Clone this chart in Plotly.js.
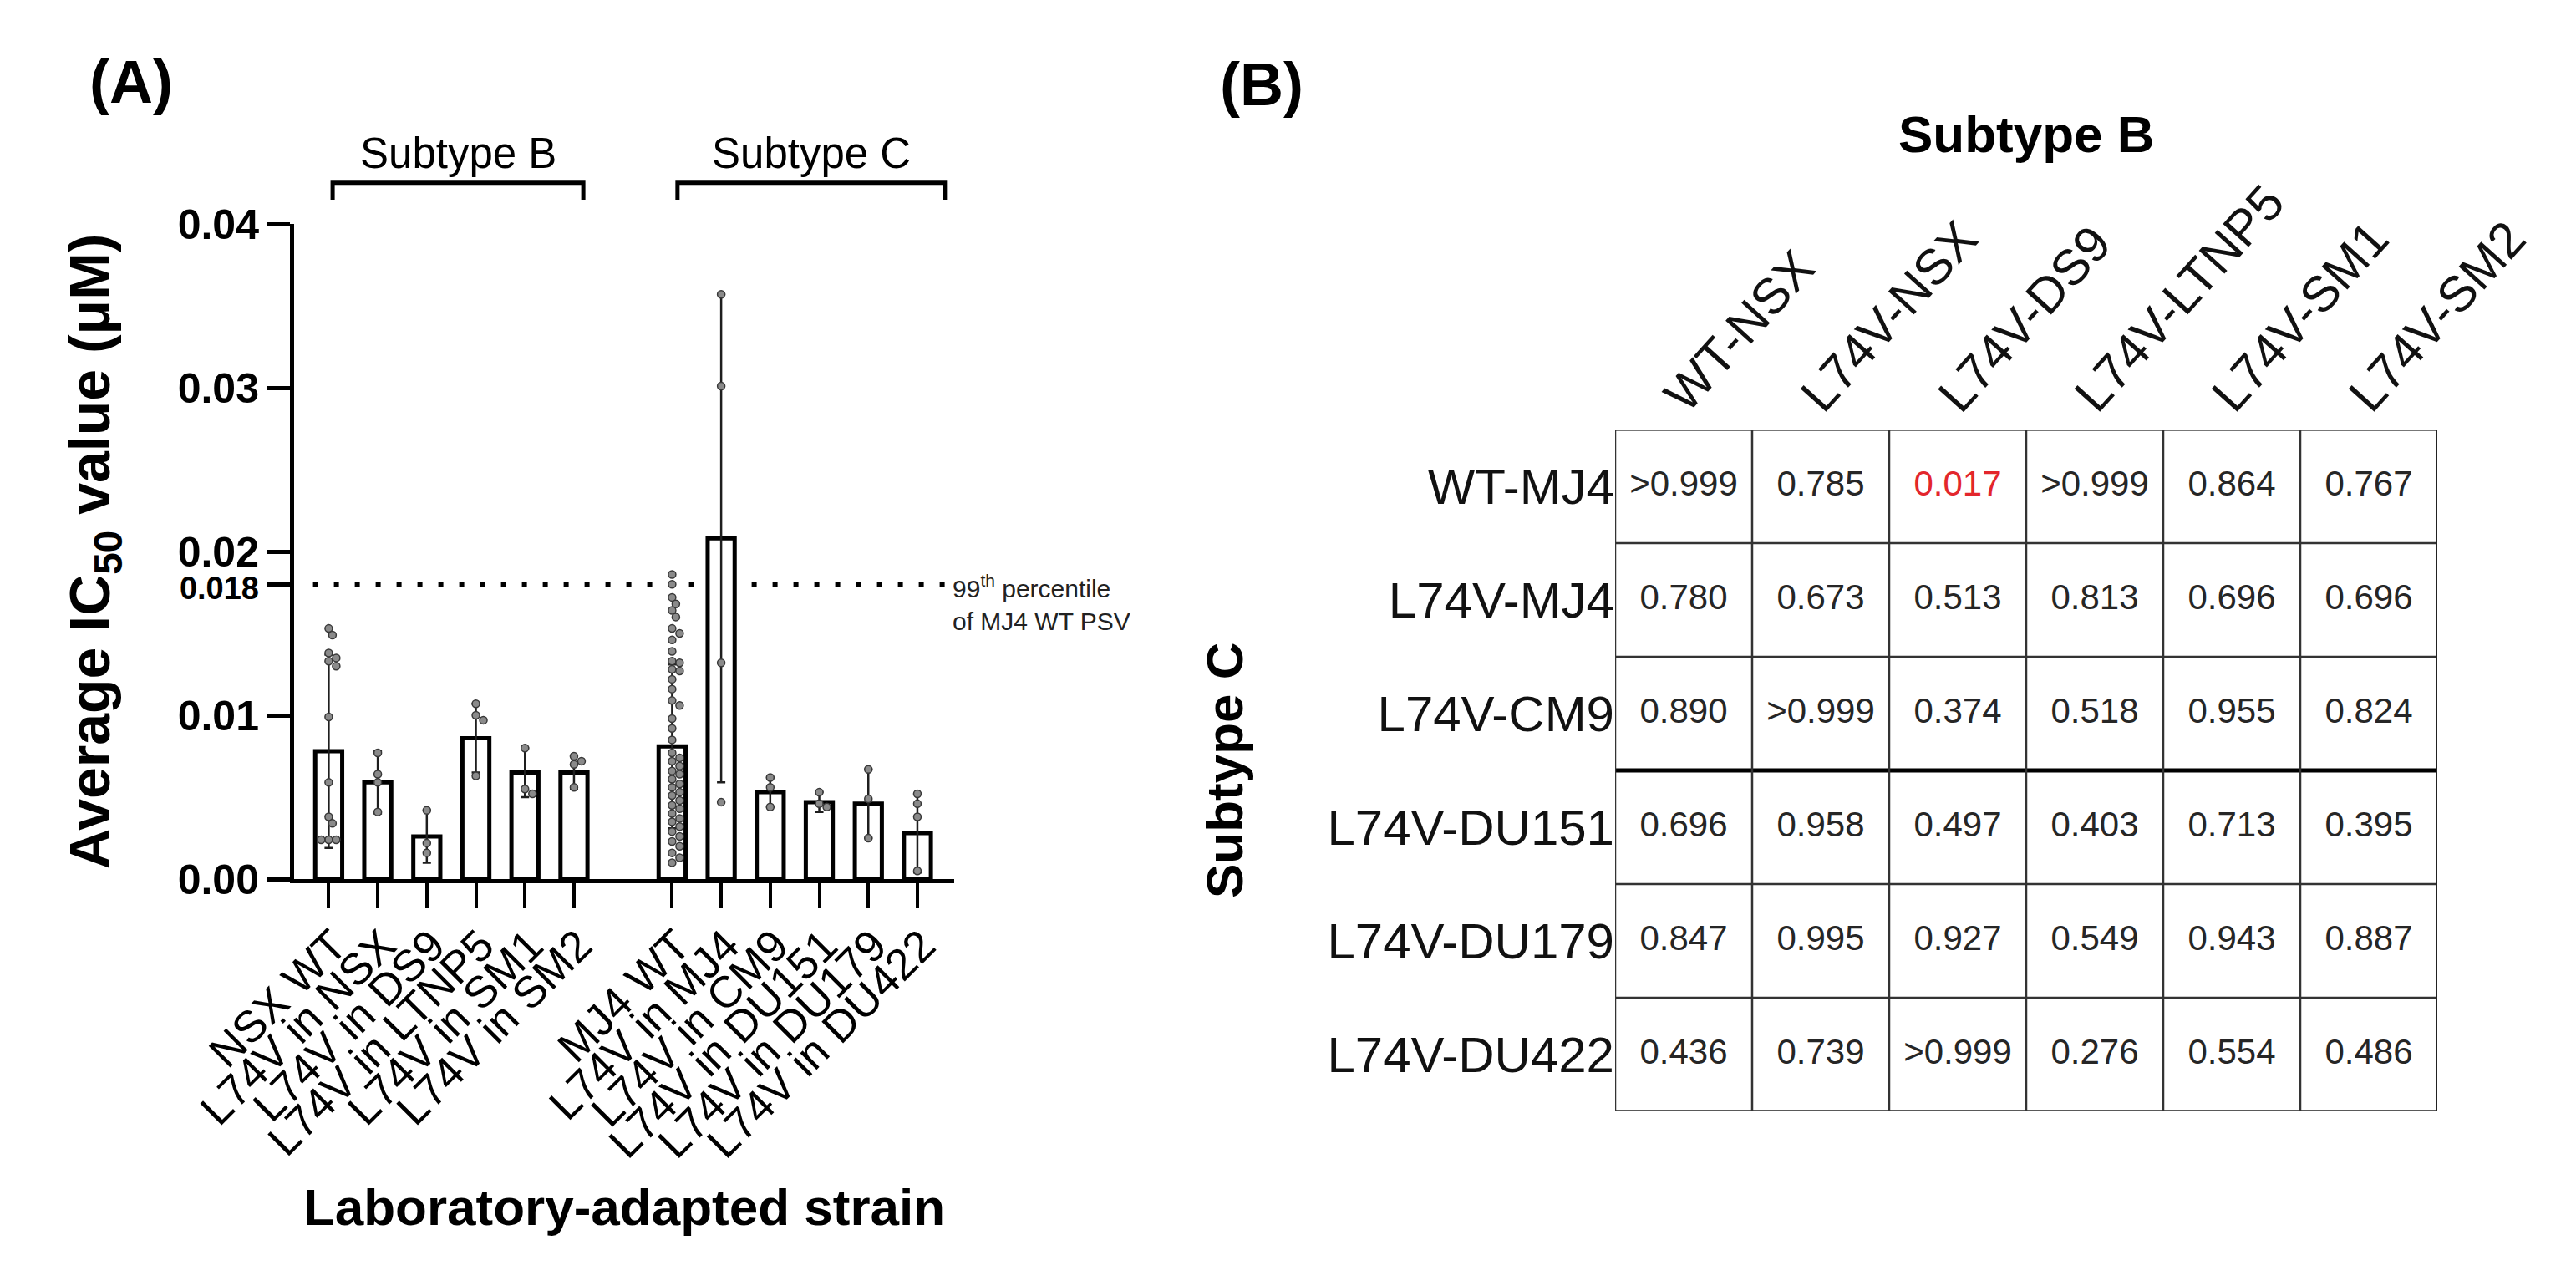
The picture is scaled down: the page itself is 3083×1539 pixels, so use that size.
<!DOCTYPE html>
<html>
<head>
<meta charset="utf-8">
<script src="https://cdn.plot.ly/plotly-3.0.1.min.js"></script>
<style>
html,body{margin:0;padding:0;background:#fff;}
#chart{width:3083px;height:1539px;}
</style>
</head>
<body>
<div id="chart"></div>
<script>
// ================= DATA =================
// Panel A: laboratory-adapted strains
const strainsB = ['NSX WT', 'L74V in NSX', 'L74V in DS9', 'L74V in LTNP5', 'L74V in SM1', 'L74V in SM2'];
const strainsC = ['MJ4 WT', 'L74V in MJ4', 'L74V in CM9', 'L74V in DU151', 'L74V in DU179', 'L74V in DU422'];
const groupNames = ['Subtype B', 'Subtype C'];

// mean IC50 (µM)
const meanIC50B = [0.0078, 0.0059, 0.0026, 0.0086, 0.0065, 0.0065];
const meanIC50C = [0.0081, 0.0208, 0.0053, 0.0047, 0.0046, 0.0028];
// SD of IC50 (µM)
const sdIC50B = [0.0059, 0.0019, 0.0016, 0.0021, 0.0015, 0.0010];
const sdIC50C = [0.0050, 0.0149, 0.0009, 0.0006, 0.0021, 0.0024];

// individual IC50 values (µM)
const pointsB = [
  [0.0153, 0.0149, 0.0138, 0.0135, 0.0133, 0.0130, 0.0099, 0.0059, 0.0038, 0.0034, 0.0024, 0.0024, 0.0024],
  [0.0077, 0.0064, 0.0059, 0.0041],
  [0.0042, 0.0022, 0.0016],
  [0.0107, 0.0100, 0.0097, 0.0063],
  [0.0080, 0.0055, 0.0052],
  [0.0075, 0.0072, 0.0070, 0.0056]
];
const pointsC = [
  [0.0186, 0.0180, 0.0172, 0.0168, 0.0164, 0.0160, 0.0153, 0.0150, 0.0146, 0.0139, 0.0133, 0.0132, 0.0128,
   0.0127, 0.0122, 0.0116, 0.0109, 0.0106, 0.0098, 0.0092, 0.0085, 0.0077, 0.0074, 0.0072, 0.0069, 0.0066,
   0.0064, 0.0061, 0.0058, 0.0056, 0.0053, 0.0051, 0.0048, 0.0045, 0.0043, 0.0040, 0.0037, 0.0035, 0.0032,
   0.0029, 0.0026, 0.0023, 0.0020, 0.0016, 0.0013, 0.0010],
  [0.0357, 0.0301, 0.0132, 0.0047],
  [0.0062, 0.0056, 0.0044],
  [0.0053, 0.0046, 0.0044],
  [0.0067, 0.0049, 0.0025],
  [0.0052, 0.0046, 0.0038, 0.0005]
];
const percentile99MJ4 = 0.018;
const yTickVals = [0, 0.01, 0.018, 0.02, 0.03, 0.04];
const yTickText = ['0.00', '0.01', '0.018', '0.02', '0.03', '0.04'];

// Panel B: p-values, rows = Subtype C strains, columns = Subtype B strains
const colStrains = ['WT-NSX', 'L74V-NSX', 'L74V-DS9', 'L74V-LTNP5', 'L74V-SM1', 'L74V-SM2'];
const rowStrains = ['WT-MJ4', 'L74V-MJ4', 'L74V-CM9', 'L74V-DU151', 'L74V-DU179', 'L74V-DU422'];
const pWT_MJ4     = ['>0.999', '0.785', '0.017', '>0.999', '0.864', '0.767'];
const pL74V_MJ4   = ['0.780', '0.673', '0.513', '0.813', '0.696', '0.696'];
const pL74V_CM9   = ['0.890', '>0.999', '0.374', '0.518', '0.955', '0.824'];
const pL74V_DU151 = ['0.696', '0.958', '0.497', '0.403', '0.713', '0.395'];
const pL74V_DU179 = ['0.847', '0.995', '0.927', '0.549', '0.943', '0.887'];
const pL74V_DU422 = ['0.436', '0.739', '>0.999', '0.276', '0.554', '0.486'];

// ================= BUILD =================
const W = 3083, H = 1539;
const FONT = 'Liberation Sans, Arial, sans-serif';
const pyP = p => 1 - p / H;   // pixel row -> paper y
const pxP = p => p / W;       // pixel col -> paper x

const ctx = document.createElement('canvas').getContext('2d');
function textW(t, size, weight) {
  ctx.font = (weight || 'normal') + ' ' + size + 'px "Liberation Sans", Arial, sans-serif';
  return ctx.measureText(t).width;
}

// Panel A positions (one empty slot between the two subtype groups)
const xPosB = strainsB.map((_, i) => i);
const xPosC = strainsC.map((_, i) => strainsB.length + 1 + i);
const xPos = xPosB.concat(xPosC);
const xLabels = strainsB.concat(strainsC);
const means = meanIC50B.concat(meanIC50C);
const sds = sdIC50B.concat(sdIC50C);
const pts = pointsB.concat(pointsC);

const A = {x0: 352, x1: 1142, yTop: 268, yBot: 1052, xMin: -0.705, xMax: 12.75, yMax: 0.04};
const pxPerX = (A.x1 - A.x0) / (A.xMax - A.xMin);
const pxPerY = (A.yBot - A.yTop) / A.yMax;

// deterministic beeswarm placement of the individual points
const markerD = 9;
const step = 0.5 * markerD / pxPerX;
const sx = [], sy = [];
pts.forEach((vals, g) => {
  const placed = [];
  const order = vals.map((v, i) => i).sort((a, b) => vals[b] - vals[a]);
  order.forEach(i => {
    const v = vals[i];
    for (let k = 0; k < 80; k++) {
      const off = k === 0 ? 0 : ((k % 2) ? 1 : -1) * Math.ceil(k / 2) * step;
      const ok = placed.every(p => Math.hypot((p.o - off) * pxPerX, (p.v - v) * pxPerY) >= markerD * 0.9);
      if (ok) { placed.push({o: off, v: v}); sx.push(xPos[g] + off); sy.push(v); break; }
    }
  });
});

const yTickTextStyled = yTickText.map((t, i) =>
  yTickVals[i] === percentile99MJ4 ? '<span style="font-size:38px">' + t + '</span>' : t);

const barTrace = {
  type: 'bar', x: xPos, y: means, width: 0.55, xaxis: 'x', yaxis: 'y',
  marker: {color: '#ffffff', line: {color: '#000000', width: 5}},
  error_y: {type: 'data', array: sds, visible: true, color: '#1e1e1e', thickness: 2.5, width: 5},
  hoverinfo: 'x+y'
};
const pointTrace = {
  type: 'scatter', mode: 'markers', x: sx, y: sy, xaxis: 'x', yaxis: 'y', cliponaxis: false,
  marker: {size: markerD, color: '#8a8a8a', line: {color: '#383838', width: 1.5}},
  hoverinfo: 'y'
};

// Panel B
const pTable = [pWT_MJ4, pL74V_MJ4, pL74V_CM9, pL74V_DU151, pL74V_DU179, pL74V_DU422];
const zVals = pTable.map(r => r.map(s => parseFloat(s.replace('>', ''))));
const heatTrace = {
  type: 'heatmap', x: colStrains, y: rowStrains, z: zVals, xaxis: 'x2', yaxis: 'y2',
  colorscale: [[0, '#ffffff'], [1, '#ffffff']], showscale: false, hoverinfo: 'skip'
};
const tx = [], ty = [], tt = [], tc = [];
pTable.forEach((r, i) => r.forEach((s, j) => {
  tx.push(colStrains[j]); ty.push(rowStrains[i]); tt.push(s);
  tc.push(zVals[i][j] < 0.05 ? '#e3262c' : '#262626');
}));
const textTrace = {
  type: 'scatter', mode: 'text', x: tx, y: ty, text: tt, xaxis: 'x2', yaxis: 'y2',
  textposition: 'middle center', cliponaxis: false, hoverinfo: 'skip',
  textfont: {size: 42, color: tc, family: FONT}
};

// shapes
const shapes = [];
// 99th percentile dotted line (drawn behind the bars)
shapes.push({type: 'line', xref: 'x', yref: 'y', layer: 'below',
  x0: -0.32, x1: 12.62, y0: percentile99MJ4, y1: percentile99MJ4,
  line: {color: '#000', width: 6, dash: '6px,19px'}});
// subtype brackets
const bracketSpan = [[0.08, 5.19], [7.11, 12.56]];
const brTop = pyP(218.75), brLow = pyP(239);
bracketSpan.forEach(b => {
  shapes.push({type: 'path', xref: 'x', yref: 'paper',
    path: 'M ' + b[0] + ',' + brLow + ' L ' + b[0] + ',' + brTop + ' L ' + b[1] + ',' + brTop + ' L ' + b[1] + ',' + brLow,
    line: {color: '#000', width: 5}});
});
// table grid
const nR = rowStrains.length, nC = colStrains.length;
for (let i = 0; i <= nR; i++) {
  let st = {color: '#333', width: 2.5};
  if (i === 0) st = {color: '#777', width: 4};
  if (i === 3) st = {color: '#000', width: 5};
  if (i === nR) st = {color: '#222', width: 3.5};
  shapes.push({type: 'line', xref: 'x2', yref: 'y2', x0: -0.5, x1: nC - 0.5, y0: i - 0.5, y1: i - 0.5, line: st});
}
for (let j = 0; j <= nC; j++) {
  let st = {color: '#333', width: 2.5};
  if (j === nC) st = {color: '#222', width: 3.5};
  shapes.push({type: 'line', xref: 'x2', yref: 'y2', x0: j - 0.5, x1: j - 0.5, y0: -0.5, y1: nR - 0.5, line: st});
}

// annotations
const annotations = [];
annotations.push({xref: 'paper', yref: 'paper', x: pxP(157), y: pyP(98), text: '<b>(A)</b>', showarrow: false,
  font: {size: 72, color: '#000'}, xanchor: 'center', yanchor: 'middle'});
annotations.push({xref: 'paper', yref: 'paper', x: pxP(1510), y: pyP(101), text: '<b>(B)</b>', showarrow: false,
  font: {size: 72, color: '#000'}, xanchor: 'center', yanchor: 'middle'});
bracketSpan.forEach((b, g) => {
  annotations.push({xref: 'x', yref: 'paper', x: (b[0] + b[1]) / 2, y: pyP(183), text: groupNames[g], showarrow: false,
    font: {size: 51, color: '#000'}, xanchor: 'center', yanchor: 'middle'});
});
annotations.push({xref: 'x', yref: 'y', x: 12.62, y: percentile99MJ4, xshift: 4, yshift: -22,
  text: '99<sup>th</sup> percentile<br>of MJ4 WT PSV', showarrow: false, align: 'left',
  font: {size: 30, color: '#222'}, xanchor: 'left', yanchor: 'middle'});
annotations.push({xref: 'x2', yref: 'paper', x: (nC - 1) / 2, y: pyP(160), text: '<b>Subtype B</b>', showarrow: false,
  font: {size: 62, color: '#000'}, xanchor: 'center', yanchor: 'middle'});
annotations.push({xref: 'paper', yref: 'y2', x: pxP(1465), y: (nR - 1) / 2, text: '<b>Subtype C</b>', showarrow: false,
  textangle: -90, font: {size: 62, color: '#000'}, xanchor: 'center', yanchor: 'middle'});
const hdrFS = 60, hdrAng = 48, th = hdrAng * Math.PI / 180;
colStrains.forEach((c, j) => {
  const w = textW(c, hdrFS);
  annotations.push({xref: 'x2', yref: 'y2', x: j, y: -0.5, text: c, showarrow: false, textangle: -hdrAng,
    font: {size: hdrFS, color: '#111'}, xanchor: 'center', yanchor: 'middle',
    xshift: 4 + (w / 2) * Math.cos(th) - 0.35 * hdrFS * Math.sin(th),
    yshift: 17 + (w / 2) * Math.sin(th) + 0.35 * hdrFS * Math.cos(th)});
});

const layout = {
  width: W, height: H, margin: {l: 0, r: 0, t: 0, b: 0},
  paper_bgcolor: '#ffffff', plot_bgcolor: 'rgba(0,0,0,0)', showlegend: false, hovermode: false,
  font: {family: FONT, color: '#000'},
  xaxis: {
    domain: [pxP(A.x0), pxP(A.x1)], range: [A.xMin, A.xMax], anchor: 'y',
    tickmode: 'array', tickvals: xPos, ticktext: xLabels, tickangle: -45,
    ticks: 'outside', ticklen: 30, tickwidth: 4, tickcolor: '#000',
    ticklabelstandoff: -8, ticklabelshift: 6,
    showline: true, linewidth: 5, linecolor: '#000', showgrid: false, zeroline: false,
    tickfont: {size: 53, color: '#000'},
    title: {text: 'Laboratory-adapted strain', font: {size: 62, weight: 'bold', color: '#000'}, standoff: 28}
  },
  yaxis: {
    domain: [pyP(A.yBot), pyP(A.yTop)], range: [0, A.yMax], anchor: 'x',
    tickmode: 'array', tickvals: yTickVals, ticktext: yTickTextStyled,
    ticks: 'outside', ticklen: 27, tickwidth: 5, tickcolor: '#000',
    showline: true, linewidth: 5, linecolor: '#000', showgrid: false, zeroline: false,
    tickfont: {size: 50, weight: 'bold', color: '#000'},
    title: {text: 'Average IC<sub>50</sub> value (μM)', font: {size: 68, weight: 'bold', color: '#000'}, standoff: 60}
  },
  xaxis2: {
    domain: [pxP(1933), pxP(2917)], anchor: 'y2', type: 'category', categoryarray: colStrains,
    range: [-0.5, nC - 0.5], showticklabels: false, ticks: '', showline: false, showgrid: false, zeroline: false
  },
  yaxis2: {
    domain: [pyP(1330), pyP(514)], anchor: 'x2', type: 'category', categoryarray: rowStrains,
    range: [nR - 0.5, -0.5], ticks: '', showline: false, showgrid: false, zeroline: false,
    tickfont: {size: 60, color: '#111'}
  },
  shapes: shapes,
  annotations: annotations
};

Plotly.newPlot('chart', [barTrace, pointTrace, heatTrace, textTrace], layout, {displayModeBar: false, responsive: false});
</script>
</body>
</html>
